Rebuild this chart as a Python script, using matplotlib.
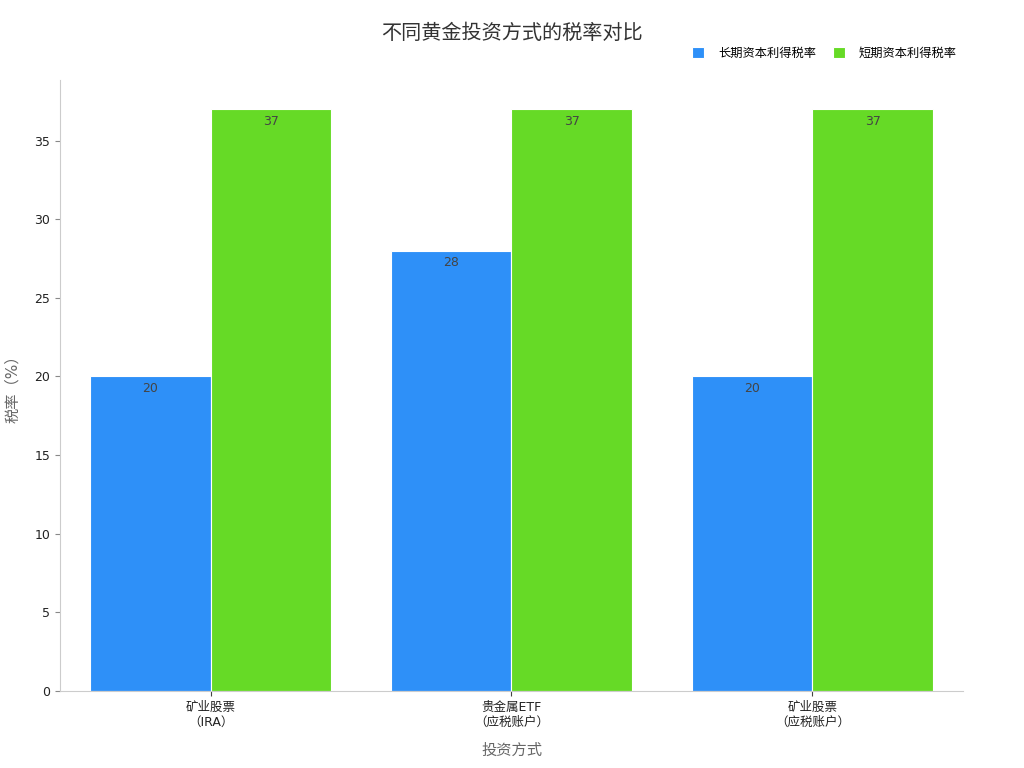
import matplotlib.pyplot as plt
import numpy as np

plt.rcParams['font.family'] = ['DejaVu Sans', 'Noto Sans CJK SC']

categories = ["矿业股票\n（IRA）", "贵金属ETF\n（应税账户）", "矿业股票\n（应税账户）"]
long_term = [20, 28, 20]
short_term = [37, 37, 37]
series_names = ["长期资本利得税率", "短期资本利得税率"]
colors = ["#2E90F8", "#66DA26"]

fig = plt.figure(figsize=(10.24, 7.68), dpi=100)
ax = fig.add_axes([0.0586, 0.1003, 0.8818, 0.7955])

x = np.arange(len(categories))
width = 0.4
for offset, vals, name, color in [(-width / 2, long_term, series_names[0], colors[0]),
                                  (width / 2, short_term, series_names[1], colors[1])]:
    bars = ax.bar(x + offset, vals, width, color=color, edgecolor="white",
                  linewidth=0.8, label=name)
    for b, v in zip(bars, vals):
        ax.annotate(str(v), (b.get_x() + b.get_width() / 2, b.get_height()),
                    xytext=(0, -4), textcoords="offset points",
                    ha="center", va="top", fontsize=9, color="#444444")

ax.set_xlim(-0.5, 2.5)
ax.set_ylim(0, 38.85)
ax.set_xticks(x)
ax.set_xticklabels(categories, fontsize=9, color="#222222")
ax.set_yticks(range(0, 36, 5))
ax.tick_params(axis="y", labelsize=9, colors="#222222")
ax.tick_params(axis="y", color="#888888")
ax.tick_params(axis="x", color="#444444")

for s in ["top", "right"]:
    ax.spines[s].set_visible(False)
for s in ["left", "bottom"]:
    ax.spines[s].set_color("#cccccc")

ax.set_xlabel("投资方式", fontsize=11, color="#666666", labelpad=10)
ax.set_ylabel("税率（%）", fontsize=11, color="#666666", labelpad=10)

fig.suptitle("不同黄金投资方式的税率对比", fontsize=14.5, color="#333333", y=0.97)

fig.legend(*ax.get_legend_handles_labels(), loc="center right",
           bbox_to_anchor=(0.945, 0.931), ncol=2, frameon=False,
           fontsize=8.8, handlelength=1.0, handleheight=1.0, columnspacing=1.4,
           handletextpad=1.1)

fig.savefig("out.png", dpi=100)
